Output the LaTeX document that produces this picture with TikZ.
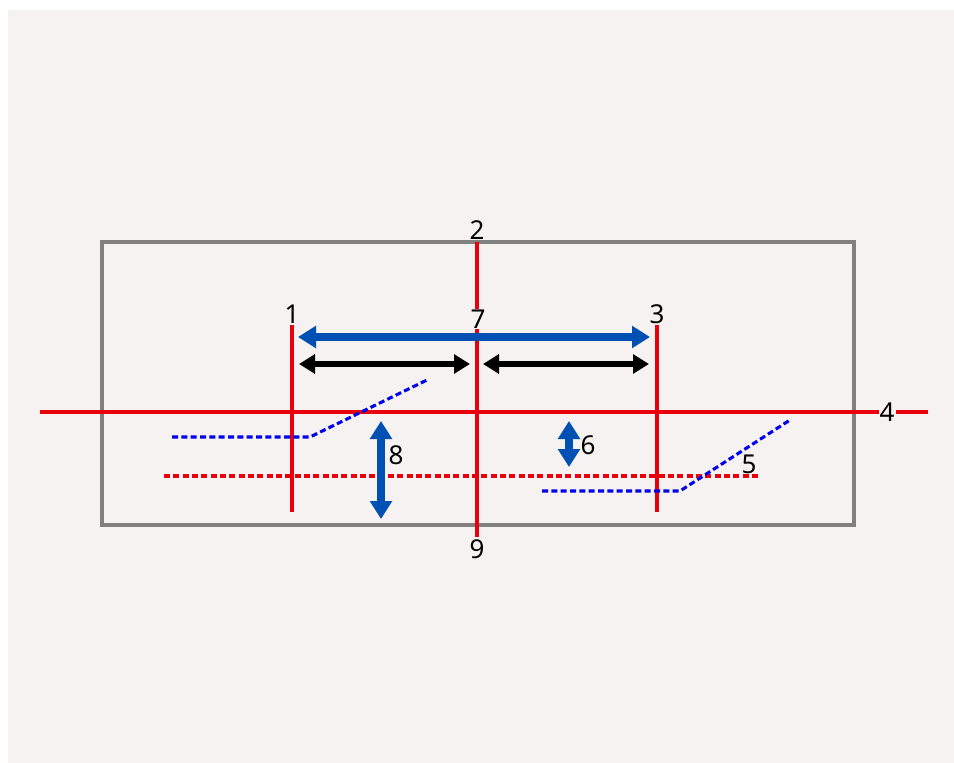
\documentclass[tikz,border=0pt]{standalone}
\usepackage{fontspec}
\setmainfont{Noto Sans}
\usetikzlibrary{arrows.meta,positioning}
\definecolor{panelbg}{HTML}{F5F2F1}
\definecolor{lnRed}{HTML}{E8000D}
\definecolor{arBlue}{HTML}{0050B4}
\definecolor{dsBlue}{HTML}{0000F0}
\definecolor{boxGray}{HTML}{808080}

\begin{document}
\begin{tikzpicture}[x=0.75pt,y=-0.75pt,
  redln/.style={lnRed,line width=2.3pt},
  reddash/.style={lnRed,line width=2.3pt,dash pattern=on 4.5pt off 2.5pt},
  bluedash/.style={dsBlue,line width=2.3pt,dash pattern=on 4.5pt off 2.5pt},
  num/.style={font=\fontsize{19.5}{22}\selectfont,fill=panelbg,inner sep=0.8pt},
  bluearr/.style={arBlue,line width=5.4pt,{Triangle[length=13.5pt,width=16pt]}-{Triangle[length=13.5pt,width=16pt]}},
  blackarr/.style={black,line width=4.3pt,{Triangle[length=12pt,width=14pt]}-{Triangle[length=12pt,width=14pt]}}]
\useasboundingbox (0,0) rectangle (954,763);
\fill[white] (0,0) rectangle (954,763);
\fill[panelbg] (8,10) rectangle (954,763);
% frame
\draw[boxGray,line width=2.3pt] (102,242) rectangle (854,525);
% labels
\node[num] (n1) at (292,314) {1};
\node[num] (n2) at (477,230) {2};
\node[num] (n3) at (657,314) {3};
\node[num] (n9) at (477,549) {9};
% guide lines
\coordinate (b1) at (292,512);
\coordinate (b3) at (657,512);
\coordinate (t2) at (477,242);
\coordinate (b9) at (477,537);
\coordinate (l4) at (40,412);
\coordinate (r4) at (928,412);
\draw[redln] (n1.south) -- (b1);
\draw[redln] (n3.south) -- (b3);
\draw[redln] (t2) -- (b9);
\draw[redln] (l4) -- (r4);
\node[num] (n4) at (887,412) {4};
% offsets
\coordinate (d5a) at (164,476);
\coordinate (d5b) at (760,476);
\draw[reddash] (d5a) -- (d5b);
\draw[bluedash] (172,437) -- (310,437) -- (427,380);
\draw[bluedash] (542,491) -- (680,491) -- (790,420);
\node[num,fill=none] (n5) at (749,464) {5};
% spans
\coordinate (s1) at (298,337);
\coordinate (s3) at (650,337);
\draw[bluearr] (s1) -- (s3);
\node[num,inner sep=0.3pt] (n7) at (478,319) {7};
\foreach \a/\b in {299/470,483/649}{
  \draw[blackarr] (\a,364) -- (\b,364);}
% heights
\coordinate (h8t) at (381,421);
\coordinate (h8b) at (381,519);
\coordinate (h6t) at (569,421);
\coordinate (h6b) at (569,467);
\draw[bluearr] (h8t) -- (h8b);
\draw[bluearr] (h6t) -- (h6b);
\node[num,fill=none] (n8) at (396,455) {8};
\node[num,fill=none] (n6) at (588,445) {6};
\end{tikzpicture}
\end{document}
